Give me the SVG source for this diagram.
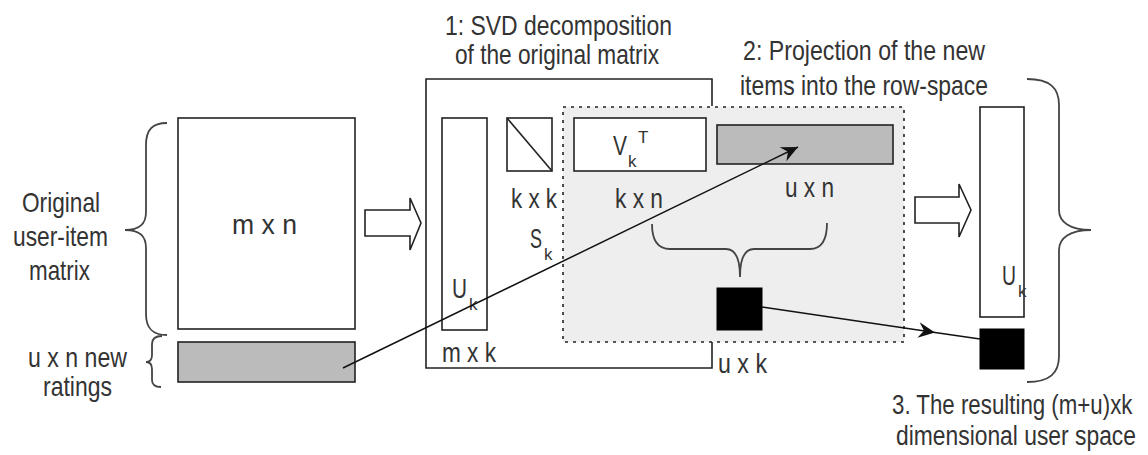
<svg xmlns="http://www.w3.org/2000/svg" width="1148" height="455" viewBox="0 0 1148 455">
<style>
  .t { font-family: "Liberation Sans", Arial, sans-serif; font-size: 28px; fill: #333; }
  .s { font-family: "Liberation Sans", Arial, sans-serif; font-size: 17px; fill: #333; }
  .box { fill: #fff; stroke: #222; stroke-width: 1.6; }
  .gray { fill: #bbbbbb; stroke: #222; stroke-width: 1.6; }
  .blk { fill: #000; stroke: #000; stroke-width: 1; }
  .ln { fill: none; stroke: #222; stroke-width: 1.6; }
  .br { fill: none; stroke: #444; stroke-width: 1.8; }
  .con { fill: none; stroke: #111; stroke-width: 1.5; }
</style>
<defs>
  <marker id="ah" markerUnits="userSpaceOnUse" markerWidth="20" markerHeight="20" viewBox="-16 -8 18 16" refX="0" refY="0" orient="auto">
    <path d="M0,0 L-15,-7 L-10,0 L-15,7 Z" fill="#111"/>
  </marker>
</defs>
<rect width="1148" height="455" fill="#fff"/>

<g id="original-matrix">
  <rect class="box" x="178" y="118" width="177" height="211"/>
  <text class="t" x="232" y="234" font-size="36" textLength="65" lengthAdjust="spacingAndGlyphs">m x n</text>
  <path class="br" d="M167,123 C152,123 146,130 146,145 L146,212 C146,224 140,230 125,230 C140,230 146,236 146,248 L146,314 C146,328 152,335 167,335"/>
  <text class="t" x="22" y="212" textLength="78" lengthAdjust="spacingAndGlyphs">Original</text>
  <text class="t" x="13" y="246" textLength="95" lengthAdjust="spacingAndGlyphs">user-item</text>
  <text class="t" x="29" y="280" textLength="61" lengthAdjust="spacingAndGlyphs">matrix</text>
</g>

<g id="new-ratings">
  <rect class="gray" x="178" y="342" width="177" height="40"/>
  <path class="br" d="M162,336 C155,336 152,339 152,344 L152,355 C152,360 150,362 146,362 C150,362 152,364 152,369 L152,380 C152,385 155,387 161,387"/>
  <text class="t" x="28" y="367" textLength="99" lengthAdjust="spacingAndGlyphs">u x n new</text>
  <text class="t" x="43" y="396" textLength="69" lengthAdjust="spacingAndGlyphs">ratings</text>
</g>

<g id="arrow-1">
  <polygon class="box" points="365,210 410,210 410,198 421,223 410,250 410,236 365,236"/>
</g>

<g id="svd-block">
  <polyline class="ln" points="712,106 712,79 426,79 426,368 712,368 712,342"/>
  <text class="t" x="445" y="35" textLength="227" lengthAdjust="spacingAndGlyphs">1: SVD decomposition</text>
  <text class="t" x="455" y="64" textLength="204" lengthAdjust="spacingAndGlyphs">of the original matrix</text>
</g>

<g id="projection-block">
  <rect x="563" y="107" width="341" height="235" fill="#eeeeee" stroke="#222" stroke-width="1.6" stroke-dasharray="3 5"/>
  <text class="t" x="743" y="60" textLength="242" lengthAdjust="spacingAndGlyphs">2: Projection of the new</text>
  <text class="t" x="740" y="95" textLength="248" lengthAdjust="spacingAndGlyphs">items into the row-space</text>
</g>

<g id="Uk">
  <rect class="box" x="442" y="118" width="45" height="212"/>
  <text class="t" x="452" y="298" textLength="15" lengthAdjust="spacingAndGlyphs">U</text>
  <text class="s" x="469" y="310">k</text>
  <text class="t" x="442" y="362" textLength="54" lengthAdjust="spacingAndGlyphs">m x k</text>
</g>

<g id="Sk">
  <rect class="box" x="507" y="118" width="45" height="53"/>
  <line class="ln" x1="507" y1="118" x2="552" y2="171"/>
  <text class="t" x="511" y="208" font-size="26" textLength="46" lengthAdjust="spacingAndGlyphs">k x k</text>
  <text class="t" x="530" y="248" textLength="12" lengthAdjust="spacingAndGlyphs">S</text>
  <text class="s" x="544" y="260">k</text>
</g>

<g id="VkT">
  <rect class="box" x="574" y="118" width="132" height="53"/>
  <text class="t" x="613" y="155" textLength="14" lengthAdjust="spacingAndGlyphs">V</text>
  <text class="s" x="628" y="167">k</text>
  <text class="s" x="638" y="143">T</text>
  <text class="t" x="615" y="208" font-size="26" textLength="48" lengthAdjust="spacingAndGlyphs">k x n</text>
</g>

<g id="new-items">
  <rect class="gray" x="717" y="125" width="176" height="39"/>
  <text class="t" x="785" y="197" textLength="49" lengthAdjust="spacingAndGlyphs">u x n</text>
  <path class="br" d="M652,224 C652,240 658,249 670,249 L726,249 C735,249 740,258 740,277 C740,258 745,249 754,249 L810,249 C822,249 827,240 827,223"/>
</g>

<g id="new-users">
  <rect class="blk" x="717" y="288" width="45" height="42"/>
  <text class="t" x="718" y="373" textLength="49" lengthAdjust="spacingAndGlyphs">u x k</text>
</g>

<g id="arrow-2">
  <polygon class="box" points="915,197 959,197 959,184 971,210 959,237 959,223 915,223"/>
</g>

<g id="result">
  <rect class="box" x="980" y="107" width="44" height="210"/>
  <text class="t" x="1002" y="285" textLength="14" lengthAdjust="spacingAndGlyphs">U</text>
  <text class="s" x="1018" y="297">k</text>
  <rect class="blk" x="980" y="329" width="44" height="40"/>
  <path class="br" d="M1027,79 C1050,79 1059,88 1059,105 L1059,210 C1059,222 1070,230 1091,230 C1070,230 1059,238 1059,250 L1059,356 C1059,373 1050,382 1027,382"/>
  <text class="t" transform="translate(892,414) scale(0.796,1)">3. The resulting (m+u)xk</text>
  <text class="t" transform="translate(896,445) scale(0.816,1)">dimensional user space</text>
</g>

<g id="connectors">
  <line class="con" x1="343" y1="368" x2="798" y2="147" marker-end="url(#ah)"/>
  <polyline class="con" points="762,307 935,332.4 980,339" marker-mid="url(#ah)"/>
</g>
</svg>
